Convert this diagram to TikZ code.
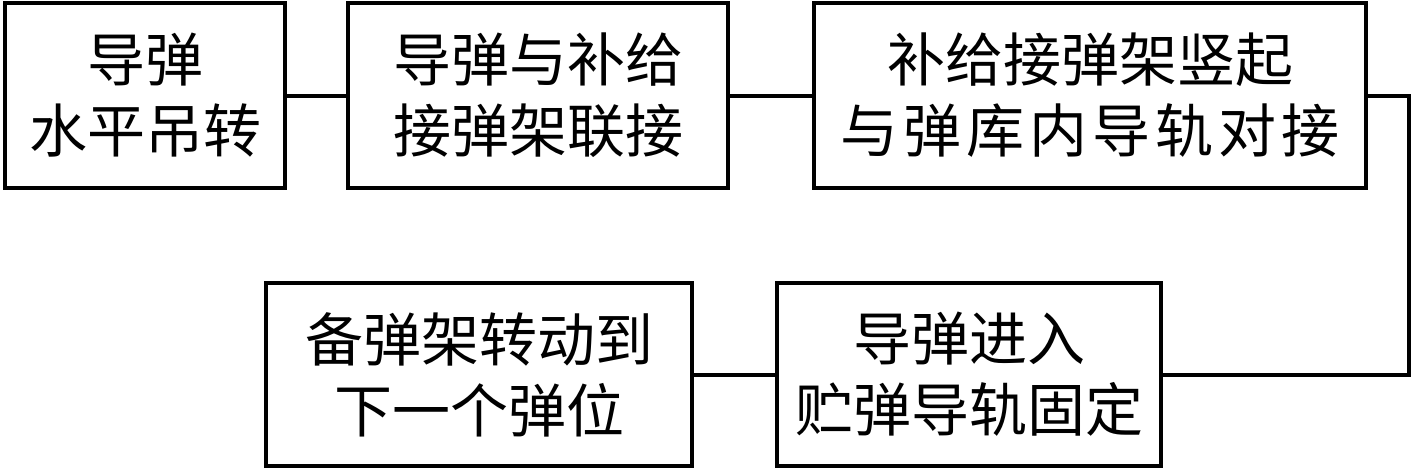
\documentclass[tikz,border=0pt]{standalone}
\usepackage{fontspec}
\newfontfamily\cjk{Noto Sans CJK SC}
\newcommand{\chgap}{\hspace{2.5pt}}
\begin{document}
\begin{tikzpicture}[x=0.5pt,y=-0.5pt,
  flowbox/.style={draw=black, line width=2pt, rectangle, align=center, inner sep=0pt,
    font=\cjk\fontsize{29pt}{35.5pt}\selectfont},
  link/.style={draw=black, line width=2pt, line join=miter}]
\useasboundingbox (0,0) rectangle (1417,472);
\node[flowbox, minimum width=140pt, minimum height=92.5pt] (b1) at (145,95.5) {导弹\\水平吊转};
\node[flowbox, minimum width=190pt, minimum height=92.5pt] (b2) at (538,95.5) {导弹与补给\\接弹架联接};
\node[flowbox, minimum width=276pt, minimum height=92.5pt] (b3) at (1090,95.5) {补给接弹架竖起\\与\chgap 弹\chgap 库\chgap 内\chgap 导\chgap 轨\chgap 对\chgap 接};
\node[flowbox, minimum width=213pt, minimum height=91.5pt] (b4) at (479,374.5) {备弹架转动到\\下一个弹位};
\node[flowbox, minimum width=192pt, minimum height=91.5pt] (b5) at (969,374.5) {导弹进入\\贮弹导轨固定};
\coordinate (c1) at (1409,95.5);
\coordinate (c2) at (1409,374.5);
\draw[link] (b1.east) -- (b2.west);
\draw[link] (b2.east) -- (b3.west);
\draw[link] (b3.east) -- (c1) -- (c2) -- (b5.east);
\draw[link] (b5.west) -- (b4.east);
\end{tikzpicture}
\end{document}
